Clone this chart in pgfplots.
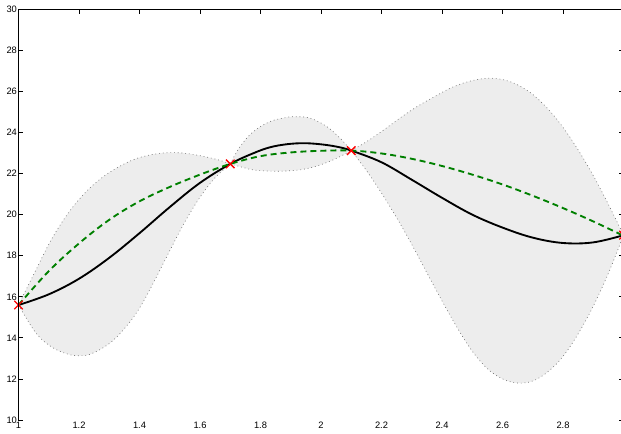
\documentclass[border=0pt]{standalone}
\usepackage{pgfplots}
\pgfplotsset{compat=1.18}
\usepgfplotslibrary{fillbetween}
\usepackage{fontspec}
\setmainfont{Liberation Sans}
\definecolor{bandgray}{gray}{0.93}
\definecolor{bandedge}{gray}{0.45}
\definecolor{meangreen}{rgb}{0,0.5,0}
\pgfplotstableread{
x y
1.0 15.6
1.054 17.2
1.108 18.77
1.164 20.07
1.219 21.05
1.274 21.78
1.329 22.31
1.384 22.70
1.439 22.92
1.494 23.02
1.549 22.99
1.604 22.86
1.66 22.67
1.7 22.47
}\upA
\pgfplotstableread{
x y
1.0 15.6
1.03 14.85
1.065 14.1
1.11 13.55
1.16 13.22
1.2 13.13
1.24 13.22
1.3 13.72
1.35 14.45
1.4 15.45
1.45 16.8
1.5 18.25
1.55 19.65
1.6 20.85
1.65 21.8
1.7 22.47
}\loA
\pgfplotstableread{
x y
1.7 22.47
1.732 23.31
1.776 24.04
1.831 24.53
1.887 24.74
1.920 24.77
1.964 24.70
2.019 24.29
2.063 23.72
2.1 23.12
}\upB
\pgfplotstableread{
x y
1.7 22.47
1.732 22.34
1.776 22.18
1.831 22.12
1.887 22.13
1.942 22.21
1.997 22.42
2.052 22.75
2.1 23.12
}\loB
\pgfplotstableread{
x y
2.1 23.12
2.15 23.55
2.2 24.05
2.3 25.1
2.4 25.95
2.45 26.3
2.5 26.53
2.55 26.64
2.6 26.58
2.65 26.32
2.7 25.85
2.75 25.15
2.8 24.25
2.85 23.15
2.9 21.9
2.95 20.5
3.0 19.0
}\upC
\pgfplotstableread{
x y
2.1 23.12
2.15 22.15
2.2 21.05
2.25 19.85
2.3 18.55
2.35 17.17
2.4 15.8
2.45 14.5
2.5 13.35
2.55 12.5
2.6 12.0
2.65 11.8
2.7 11.9
2.75 12.35
2.8 13.1
2.85 14.2
2.9 15.55
2.95 17.15
3.0 19.0
}\loC
\pgfplotstableread{
x y
1.0 15.6
1.1 16.12
1.2 16.88
1.3 17.9
1.4 19.1
1.5 20.37
1.6 21.55
1.7 22.47
1.776 22.99
1.831 23.28
1.887 23.43
1.942 23.48
1.997 23.43
2.052 23.31
2.1 23.12
2.2 22.55
2.3 21.7
2.4 20.82
2.5 20.0
2.6 19.37
2.7 18.88
2.8 18.62
2.9 18.65
3.0 19.0
}\truef
\pgfplotstableread{
x y
1.0 15.6
1.1 17.25
1.2 18.6
1.3 19.75
1.4 20.65
1.5 21.35
1.6 21.95
1.7 22.47
1.8 22.85
1.9 23.03
2.0 23.11
2.1 23.12
2.2 22.98
2.3 22.72
2.4 22.37
2.5 21.95
2.6 21.47
2.7 20.92
2.8 20.32
2.9 19.67
3.0 18.97
}\meanf
\begin{document}
\begin{tikzpicture}
\begin{axis}[
  scale only axis,
  width=453.75pt, height=308pt,
  xmin=1, xmax=3, ymin=10, ymax=30,
  xtick={1,1.2,1.4,1.6,1.8,2,2.2,2.4,2.6,2.8,3},
  ytick={10,12,14,16,18,20,22,24,26,28,30},
  xtick pos=right, xticklabel pos=left,
  ytick pos=both, yticklabel pos=left,
  tick align=inside,
  major tick length=3.6pt,
  tick style={black, line width=0.6pt},
  axis line style={draw=none},
  ticklabel style={font=\fontsize{7}{8}\selectfont},
  yticklabel style={inner sep=1pt},
  xticklabel style={inner sep=1.5pt},
  /pgf/number format/assume math mode=true,
  clip=false,
  edge/.style={smooth, tension=0.6, bandedge, line width=0.5pt, dash pattern=on 0.6pt off 2.2pt},
]
\addplot[name path=UA, draw=none, smooth, tension=0.6] table {\upA};
\addplot[name path=LA, draw=none, smooth, tension=0.6] table {\loA};
\addplot[name path=UB, draw=none, smooth, tension=0.6] table {\upB};
\addplot[name path=LB, draw=none, smooth, tension=0.6] table {\loB};
\addplot[name path=UC, draw=none, smooth, tension=0.6] table {\upC};
\addplot[name path=LC, draw=none, smooth, tension=0.6] table {\loC};
\addplot[bandgray, draw=none] fill between[of=UA and LA];
\addplot[bandgray, draw=none] fill between[of=UB and LB];
\addplot[bandgray, draw=none] fill between[of=UC and LC];
\addplot[edge] table {\upA};
\addplot[edge] table {\loA};
\addplot[edge] table {\upB};
\addplot[edge] table {\loB};
\addplot[edge] table {\upC};
\addplot[edge] table {\loC};
\addplot[smooth, tension=0.6, black, line width=1.4pt] table {\truef};
\addplot[smooth, tension=0.6, meangreen, line width=1.4pt, dash pattern=on 4.5pt off 3pt] table {\meanf};
\addplot[only marks, mark=x, mark size=4.5pt, red, line width=1pt] coordinates {
 (1.0,15.6) (1.7,22.47) (2.1,23.12) (3.0,19.0)};
\coordinate (SW) at (rel axis cs:0,0);
\coordinate (NW) at (rel axis cs:0,1);
\coordinate (NE) at (rel axis cs:1,1);
\end{axis}
\draw[line width=1.1pt, line cap=rect] (SW) -- (NW);
\draw[line width=0.8pt] (NW) -- (NE);
\pgfresetboundingbox
\useasboundingbox ([shift={(-13.9pt,-10.5pt)}]SW) rectangle ([shift={(-1.9pt,7pt)}]NE);
\end{tikzpicture}
\end{document}
